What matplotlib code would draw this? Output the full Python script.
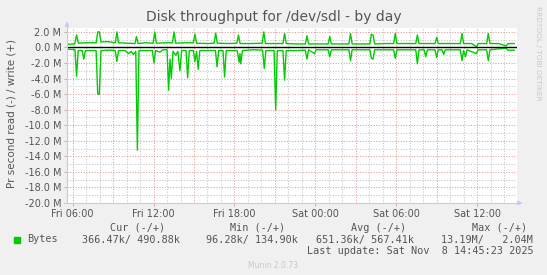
import matplotlib
matplotlib.use("Agg")
import matplotlib.pyplot as plt
from matplotlib.ticker import FixedLocator, FuncFormatter

# hours since Fri 00:00, values in MB/s
write_t = [5.58, 6.15, 6.29, 6.42, 7.0, 7.75, 7.86, 7.98, 8.1, 8.6, 9.17, 9.28, 9.40, 10.0,
           10.62, 10.73, 10.85, 11.4, 11.97, 12.09, 12.21, 12.9, 13.40, 13.52, 13.64, 14.3,
           14.95, 15.07, 15.19, 16.0, 16.49, 16.61, 16.73, 17.5, 18.18, 18.30, 18.42, 19.3,
           20.06, 20.18, 20.30, 21.0, 21.60, 21.72, 21.84, 22.6, 23.26, 23.38, 23.50, 24.2,
           24.95, 25.07, 25.19, 25.9, 26.49, 26.61, 26.73, 27.4, 28.04, 28.16, 28.28, 28.40,
           29.2, 29.81, 29.93, 30.05, 30.8, 31.45, 31.57, 31.69, 32.3, 32.88, 33.00, 33.12,
           34.0, 34.76, 34.88, 35.00, 35.6, 35.95, 36.1, 36.71, 36.83, 36.95, 37.6, 38.15,
           38.3, 38.75]
write_mb = [0.40, 0.45, 1.6, 0.55, 0.6, 0.6, 2.0, 2.0, 0.7, 0.75, 0.6, 2.0, 0.6, 0.55,
            0.5, 1.4, 0.5, 0.6, 0.55, 2.0, 0.55, 0.6, 0.6, 2.0, 0.55, 0.6,
            0.6, 1.7, 0.55, 0.5, 0.55, 1.85, 0.55, 0.5, 0.55, 1.6, 0.5, 0.5,
            0.55, 2.0, 0.5, 0.5, 0.5, 1.8, 0.5, 0.45, 0.45, 1.5, 0.45, 0.45,
            0.45, 1.4, 0.45, 0.45, 0.45, 1.8, 0.45, 0.45, 0.45, 1.7, 1.6, 0.45,
            0.5, 0.5, 1.8, 0.5, 0.5, 0.5, 1.6, 0.5, 0.5, 0.5, 1.3, 0.5,
            0.5, 0.5, 1.8, 0.5, 0.5, 0.1, 0.5, 0.5, 1.8, 0.5, 0.5, 0.2,
            0.5, 0.5]

read_t = [5.58, 6.17, 6.29, 6.41, 6.71, 6.83, 6.95, 7.74, 7.86, 7.98, 8.10, 8.8, 9.16, 9.28,
          9.40, 9.9, 10.14, 10.35, 10.51, 10.68, 10.80, 10.92, 11.5, 11.91, 12.03, 12.15,
          12.47, 12.7, 13.00, 13.12, 13.22, 13.32, 13.44, 13.65, 13.8, 13.96, 14.08, 14.41,
          14.53, 14.65, 14.95, 15.07, 15.19, 15.31, 15.43, 16.2, 16.59, 16.71, 16.83, 17.15,
          17.27, 17.39, 18.2, 18.35, 18.41, 18.47, 18.59, 19.4, 20.09, 20.21, 20.33, 20.94,
          21.06, 21.18, 21.60, 21.72, 21.84, 22.6, 23.26, 23.38, 23.50, 23.94, 24.06, 24.95,
          25.07, 25.19, 26.49, 26.61, 26.73, 28.04, 28.16, 28.28, 28.40, 29.81, 29.93, 30.05,
          31.45, 31.57, 31.69, 32.07, 32.19, 32.31, 32.88, 33.00, 33.12, 33.40, 33.52, 33.64,
          34.76, 34.88, 35.0, 35.14, 35.26, 35.95, 36.07, 36.71, 36.83, 36.95, 38.15, 38.3,
          38.75]
read_mb = [-0.2, -0.3, -3.7, -0.4, -0.4, -1.5, -0.4, -0.4, -6.0, -6.0, -0.4, -0.35, -0.4, -1.8,
           -0.4, -0.4, -0.8, -0.5, -0.9, -0.5, -13.2, -0.4, -0.4, -0.4, -2.0, -0.4,
           -0.6, -0.3, -0.3, -5.5, -1.5, -4.0, -0.5, -1.0, -0.5, -3.0, -0.4, -0.4,
           -3.9, -0.4, -0.4, -1.8, -0.5, -2.8, -0.4, -0.4, -0.4, -2.5, -0.4, -0.4,
           -3.8, -0.4, -0.4, -1.9, -0.8, -2.1, -0.4, -0.3, -0.35, -2.7, -0.4, -0.4,
           -8.0, -0.4, -0.4, -4.2, -0.4, -0.4, -0.35, -1.5, -0.3, -0.8, -0.3, -0.3,
           -1.2, -0.3, -0.3, -1.7, -0.3, -0.3, -1.4, -1.5, -0.3, -0.3, -1.4, -0.3,
           -0.3, -2.1, -0.3, -0.3, -1.2, -0.3, -0.3, -1.3, -0.3, -0.3, -0.9, -0.3,
           -0.3, -1.7, -0.4, -1.2, -0.3, -0.8, -0.3, -0.3, -1.7, -0.3, -0.1, -0.35,
           -0.35]

tick_hours = [6, 12, 18, 24, 30, 36]
tick_labels = ["Fri 06:00", "Fri 12:00", "Fri 18:00", "Sat 00:00", "Sat 06:00", "Sat 12:00"]

legend_head = ["Cur (-/+)", "Min (-/+)", "Avg (-/+)", "Max (-/+)"]
legend_vals = ["366.47k/ 490.88k", "96.28k/ 134.90k", "651.36k/ 567.41k", "13.19M/   2.04M"]

W, H = 547, 275
fig = plt.figure(figsize=(W / 100, H / 100), dpi=100, facecolor="#f0f0f0")
ax = fig.add_axes([67 / W, 1 - 203 / H, 450 / W, 175 / H], facecolor="white")

ax.set_xlim(5.58, 38.96)
ax.set_ylim(-20, 2.5)

# grid: gray every hour / 1M, red every 3h / 2M
gdash = (0, (1, 1.6))
for h in range(6, 39):
    col = "#e49a9a" if h % 3 == 0 else "#c4c4c4"
    ax.axvline(h, color=col, lw=0.75, ls=gdash, zorder=1)
for v in range(-20, 3):
    col = "#e49a9a" if v % 2 == 0 else "#c4c4c4"
    ax.axhline(v, color=col, lw=0.75, ls=gdash, zorder=1)

ax.plot(write_t, write_mb, color="#00cc00", lw=1.0, zorder=3)
ax.plot(read_t, read_mb, color="#00cc00", lw=1.0, zorder=3)
ax.axhline(0, color="black", lw=1.0, zorder=4)

for s in ax.spines.values():
    s.set_visible(False)

ax.yaxis.set_major_locator(FixedLocator(list(range(-20, 3, 2))))
ax.yaxis.set_major_formatter(FuncFormatter(lambda v, p: "%.1f M" % v))
ax.xaxis.set_major_locator(FixedLocator(tick_hours))
ax.set_xticklabels(tick_labels)
ax.tick_params(axis="both", labelsize=7, labelcolor="#555555", colors="#aaaaaa",
               length=2, width=0.6, pad=2)

# axes with arrows
acol = "#c8c8f0"
fig.add_artist(plt.Line2D([67 / W, 67 / W], [1 - 203 / H, 1 - 24 / H], color=acol, lw=0.8))
fig.add_artist(plt.Line2D([64 / W, 520 / W], [1 - 203 / H, 1 - 203 / H], color=acol, lw=0.8))
ax.annotate("", xy=(67 / W, 1 - 19 / H), xytext=(67 / W, 1 - 26 / H), xycoords="figure fraction",
            arrowprops=dict(arrowstyle="-|>", color=acol, lw=0.5, mutation_scale=7))
ax.annotate("", xy=(525 / W, 1 - 203 / H), xytext=(518 / W, 1 - 203 / H), xycoords="figure fraction",
            arrowprops=dict(arrowstyle="-|>", color=acol, lw=0.5, mutation_scale=7))

fig.text(273.5 / W, 1 - 17 / H, "Disk throughput for /dev/sdl - by day", ha="center", va="center",
         fontsize=10, color="#555555")
fig.text(12 / W, 1 - 113 / H, "Pr second read (-) / write (+)", rotation=90, ha="center",
         va="center", fontsize=7.5, color="#555555")
fig.text(538 / W, 1 - 53 / H, "RRDTOOL / TOBI OETIKER", rotation=270, ha="center", va="center",
         fontsize=5.3, color="#c8c8c8")

mono = "DejaVu Sans Mono"
for cx, txt in zip([137.7, 258, 378.7, 499.3], legend_head):
    fig.text(cx / W, 1 - 228 / H, txt, ha="center", va="center", fontsize=7.3, family=mono,
             color="#555555")
fig.patches.append(plt.Rectangle((14 / W, 1 - 242.5 / H), 5.5 / W, 5.5 / H, color="#00cc00",
                                 transform=fig.transFigure, figure=fig))
fig.text(26.7 / W, 1 - 239.5 / H, "Bytes", ha="left", va="center", fontsize=7.3, family=mono,
         color="#555555")
for rx, txt in zip([180, 297.7, 414.3, 533.3], legend_vals):
    fig.text(rx / W, 1 - 239.5 / H, txt, ha="right", va="center", fontsize=7.3, family=mono,
             color="#555555")
fig.text(533.3 / W, 1 - 251 / H, "Last update: Sat Nov  8 14:45:23 2025", ha="right", va="center",
         fontsize=7.3, family=mono, color="#555555")
fig.text(272.5 / W, 1 - 265 / H, "Munin 2.0.73", ha="center", va="center", fontsize=5.5,
         color="#c8c8c8")

fig.savefig("out.png", dpi=100, facecolor=fig.get_facecolor())
